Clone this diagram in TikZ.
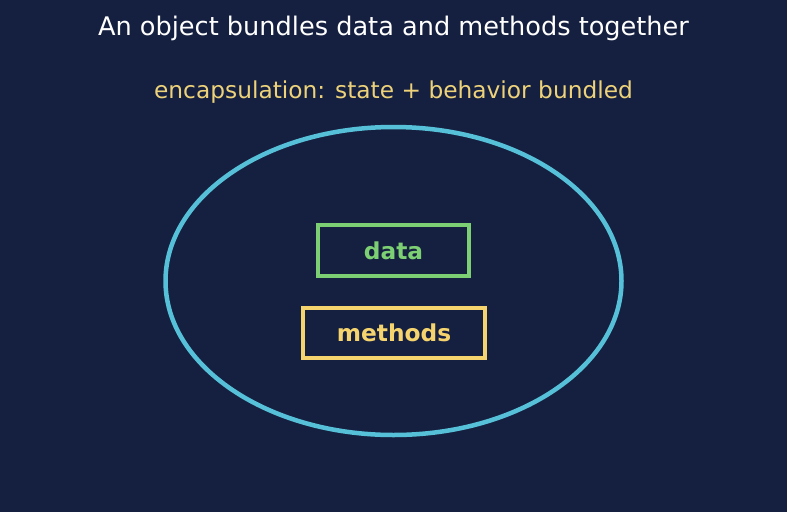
\documentclass[tikz,border=0pt]{standalone}
\usepackage{fontspec}
\setmainfont{DejaVu Sans}
\usetikzlibrary{shapes.geometric}
\definecolor{bg}{HTML}{152040}
\definecolor{ring}{HTML}{56C0D8}
\definecolor{grn}{HTML}{7CCF72}
\definecolor{ylw}{HTML}{F5D46E}
\definecolor{sub}{HTML}{EDD27A}
\tikzset{
  box/.style={draw, line width=3.5pt, inner sep=0pt, font=\fontsize{23.3}{27}\selectfont\bfseries},
}
\begin{document}
\begin{tikzpicture}[x=1pt,y=-1pt]
\fill[bg] (0,0) rectangle (787,512);
\useasboundingbox (0,0) rectangle (787,512);
\node[text=white, font=\fontsize{25.6}{30}\selectfont] (title) at (393.5,28) {An object bundles data and methods together};
\node[text=sub, font=\fontsize{23.3}{27}\selectfont] (subtitle) at (393.5,92) {encapsulation: state + behavior bundled};
\node[draw=ring, line width=4.5pt, ellipse, minimum width=456pt, minimum height=308pt, inner sep=0pt] (obj) at (393.5,281) {};
\node[box, draw=grn, text=grn, minimum width=151pt, minimum height=51pt] (data) at (393.5,250.5) {data};
\node[box, draw=ylw, text=ylw, minimum width=182pt, minimum height=50pt] (methods) at (394,333) {methods};
\end{tikzpicture}
\end{document}
